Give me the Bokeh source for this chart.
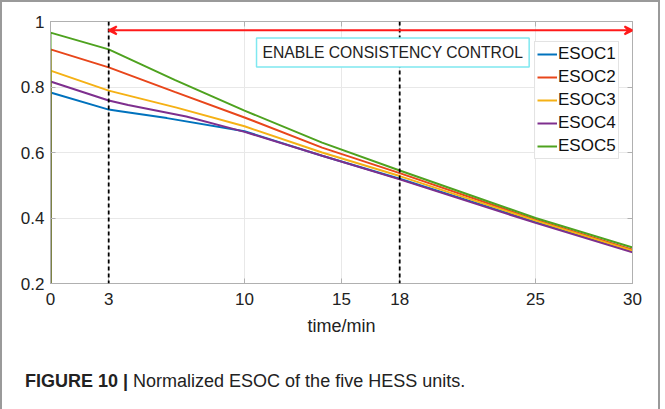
from bokeh.plotting import figure
from bokeh.models import (FixedTicker, Span, Arrow, VeeHead, Label, Legend, LegendItem,
                          LinearAxis, Range1d, Div)
from bokeh.layouts import column
from bokeh.embed import file_html
from bokeh.resources import INLINE

# ---- data ----
t1 = [0, 0, 3, 3.5, 6, 10, 14, 18, 25, 30]
esoc1 = [0.2, 0.783, 0.731, 0.727, 0.705, 0.665, 0.59, 0.52, 0.388, 0.298]
t2 = [0, 0, 3, 6.4, 10, 14, 18, 25, 30]
esoc2 = [0.2, 0.915, 0.86, 0.785, 0.707, 0.615, 0.537, 0.395, 0.303]
t3 = [0, 0, 3, 6.5, 10, 14, 18, 25, 30]
esoc3 = [0.2, 0.85, 0.789, 0.737, 0.68, 0.60, 0.528, 0.392, 0.300]
t4 = [0, 0, 3, 4, 7, 10, 14, 18, 25, 30]
esoc4 = [0.2, 0.817, 0.759, 0.745, 0.71, 0.663, 0.59, 0.518, 0.385, 0.295]
t5 = [0, 0, 3, 6.4, 10, 14, 18, 25, 30]
esoc5 = [0.2, 0.966, 0.915, 0.822, 0.728, 0.63, 0.545, 0.40, 0.31]

series_names = ["ESOC1", "ESOC2", "ESOC3", "ESOC4", "ESOC5"]
series_t = [t1, t2, t3, t4, t5]
series_v = [esoc1, esoc2, esoc3, esoc4, esoc5]
colors = ["#0072BD", "#E8461B", "#F5B115", "#7E2F8E", "#4EA21F"]

x_ticks = [0, 3, 10, 15, 18, 25, 30]
y_ticks = [0.2, 0.4, 0.6, 0.8, 1.0]
y_labels = ["0.2", "0.4", "0.6", "0.8", "1"]
control_start = 3
control_mark = 18
arrow_y = 0.973
box_text = "ENABLE CONSISTENCY CONTROL"
x_label = "time/min"
caption_bold = "FIGURE 10 |"
caption_rest = "Normalized ESOC of the five HESS units."

FONT = "Liberation Sans"
BORDER = "2px solid #9a9a9a"

p = figure(width=646, height=358, output_backend="svg", toolbar_location=None,
           x_range=Range1d(0, 30), y_range=Range1d(0.2, 1.0),
           min_border_left=48, min_border_right=16, min_border_top=19, min_border_bottom=77)
p.outline_line_color = "#b0b0b0"
p.outline_line_width = 1
p.background_fill_color = "white"

# grid
p.xgrid.ticker = FixedTicker(ticks=x_ticks)
p.ygrid.ticker = FixedTicker(ticks=y_ticks)
p.xgrid.grid_line_color = "#e8e8e8"
p.ygrid.grid_line_color = "#e8e8e8"

def style_axis(ax):
    ax.axis_line_color = "#b0b0b0"
    ax.major_tick_line_color = "#b0b0b0"
    ax.major_tick_in = 5
    ax.major_tick_out = 0
    ax.minor_tick_line_color = None
    ax.major_label_text_font = FONT
    ax.major_label_text_font_size = "17px"
    ax.major_label_text_color = "#222222"

style_axis(p.xaxis[0])
style_axis(p.yaxis[0])
p.xaxis.ticker = FixedTicker(ticks=x_ticks)
p.yaxis.ticker = FixedTicker(ticks=y_ticks)
p.yaxis.major_label_overrides = {v: s for v, s in zip(y_ticks, y_labels)}
p.xaxis.major_label_standoff = 9
p.yaxis.major_label_standoff = 6
p.xaxis.axis_label = x_label
p.xaxis.axis_label_text_font = FONT
p.xaxis.axis_label_text_font_size = "18px"
p.xaxis.axis_label_text_font_style = "normal"
p.xaxis.axis_label_text_color = "#222222"
p.xaxis.axis_label_standoff = 8

top_ax = LinearAxis(ticker=FixedTicker(ticks=x_ticks))
right_ax = LinearAxis(ticker=FixedTicker(ticks=y_ticks))
style_axis(top_ax)
style_axis(right_ax)
top_ax.major_label_overrides = {v: "" for v in x_ticks}
right_ax.major_label_overrides = {v: "" for v in y_ticks}
top_ax.major_label_standoff = 0
right_ax.major_label_standoff = 0
p.add_layout(top_ax, "above")
p.add_layout(right_ax, "right")

# lines
items = []
for name, tt, vv, c in zip(series_names, series_t, series_v, colors):
    r = p.line(tt, vv, line_color=c, line_width=2)
    items.append(LegendItem(label=name, renderers=[r]))

# dashed markers
for xv in (control_start, control_mark):
    p.add_layout(Span(location=xv, dimension="height", line_color="black",
                      line_dash="4 3", line_width=1.8))

# arrow
p.add_layout(Arrow(x_start=control_start, x_end=30, y_start=arrow_y, y_end=arrow_y,
                   line_color="#ff1a1a", line_width=2,
                   start=VeeHead(size=8, line_color="#ff1a1a", fill_color="#ff1a1a", line_width=2),
                   end=VeeHead(size=8, line_color="#ff1a1a", fill_color="#ff1a1a", line_width=2)))

# text box
p.add_layout(Label(x=10.62, y=0.905, text=box_text, text_font=FONT, text_font_size="15.7px",
                   text_color="#222222", text_baseline="middle",
                   border_line_color="#7fe8f0", border_line_width=1.5,
                   background_fill_color="white", padding=6))

legend = Legend(items=items, location=(484, 124), label_text_font=FONT,
                label_text_font_size="17px", label_text_color="#111111",
                glyph_width=20, glyph_height=18, label_standoff=1, spacing=3,
                padding=2, margin=0, border_line_color="#c8c8c8",
                label_height=18)
p.add_layout(legend)

# caption
caption = Div(text=f"<b>{caption_bold}</b> {caption_rest}", width=646, height=40,
              styles={"padding-left": "18px", "padding-top": "6px",
                      "font-family": FONT, "font-size": "18px", "color": "#222222",
                      "line-height": "20px"})

layout = column(p, caption, spacing=0,
                styles={"border-left": BORDER, "border-top": BORDER, "border-right": BORDER})
open("out.html", "w").write(file_html(layout, INLINE))
